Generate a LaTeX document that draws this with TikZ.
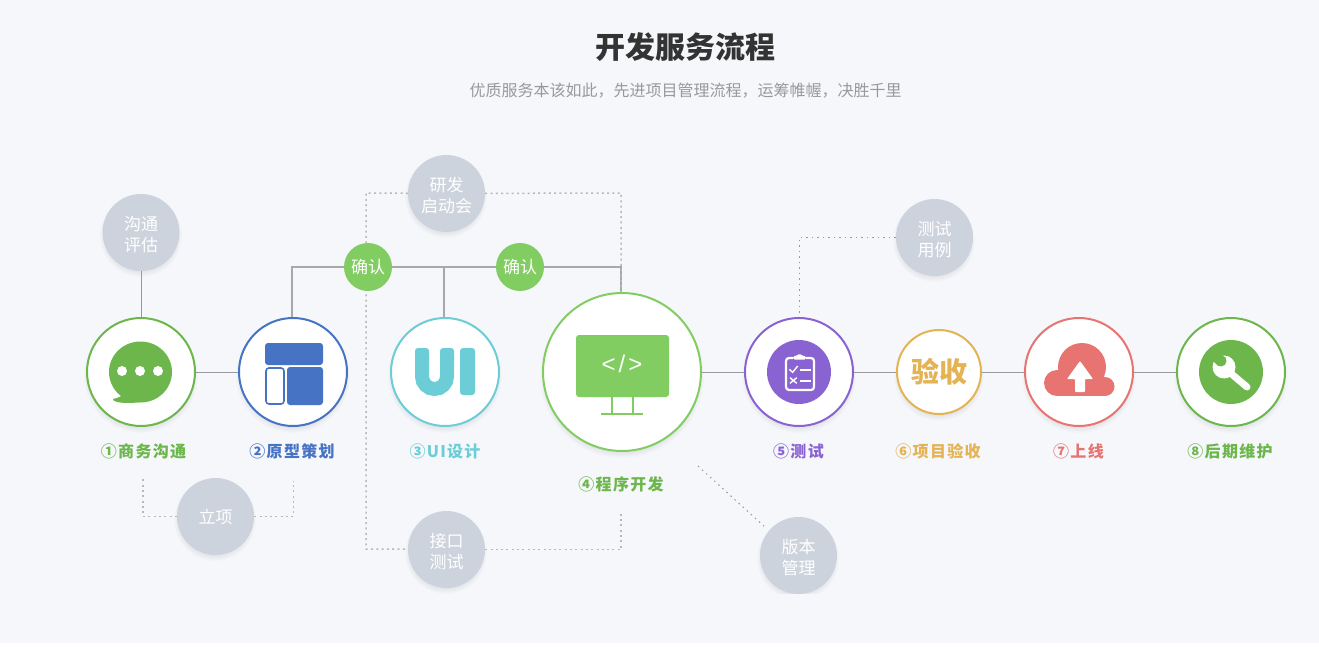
\documentclass[tikz,border=0pt]{standalone}
\usepackage{fontspec}
\setmainfont{Liberation Sans}
\newfontfamily\cjk{Noto Sans CJK SC}
\newfontfamily\cjkl[LetterSpace=8]{Noto Sans CJK SC}
\usetikzlibrary{calc}
\pgfdeclarelayer{under}
\pgfdeclarelayer{wires}
\pgfsetlayers{under,wires,main}
\definecolor{bgc}{HTML}{F5F7FB}
\definecolor{cgreen}{HTML}{6CB64C}
\definecolor{cblue}{HTML}{4773C4}
\definecolor{ccyan}{HTML}{6CCDD6}
\definecolor{cgreenb}{HTML}{82CD62}
\definecolor{cpurple}{HTML}{8A63D2}
\definecolor{cgold}{HTML}{E5B354}
\definecolor{cred}{HTML}{E87472}
\definecolor{cgrey}{HTML}{CDD3DD}
\definecolor{wire}{HTML}{999999}
\tikzset{
  stage/.style={circle,draw=#1,fill=white,line width=2pt,inner sep=0pt,minimum size=108pt},
  bigstage/.style={stage=#1,minimum size=158pt},
  smallstage/.style={stage=#1,minimum size=84pt},
  extra/.style={circle,fill=cgrey,text=white,inner sep=0pt,minimum size=77pt,align=center,font=\cjk\fontsize{17}{21}\selectfont},
  okbadge/.style={circle,fill=cgreenb,text=white,inner sep=0pt,minimum size=48pt,font=\cjk\fontsize{17}{22}\selectfont},
  caption/.style={text=#1,inner sep=0pt,font=\cjkl\bfseries\fontsize{16}{20}\selectfont},
  solidwire/.style={draw=wire,line width=1pt},
  buswire/.style={draw=wire!85,line width=1.4pt},
  dotwire/.style={draw=wire!70,line width=1.5pt,dash pattern=on 2pt off 3.3pt},
  finewire/.style={draw=wire,line width=1pt,dash pattern=on 1.5pt off 4pt}
}
\newcommand\softshadow[3]{\foreach \k in {0,...,5}{\fill[black,opacity=.012] (#1,#2+4) circle ({#3+3-\k});}}
\newcommand\lowerline{\rule{0pt}{19pt}}
\begin{document}
\begin{tikzpicture}[x=1pt,y=-1pt]
\useasboundingbox (0,0) rectangle (1319,652);
\begin{pgfonlayer}{under}
\fill[white] (0,0) rectangle (1319,652);
\fill[bgc] (0,0) rectangle (1319,643);
\softshadow{141}{372}{54}\softshadow{293}{372}{54}\softshadow{445}{372}{54}
\softshadow{622}{372}{79}\softshadow{799}{372}{54}\softshadow{939}{372}{42}
\softshadow{1079}{372}{54}\softshadow{1231}{372}{54}
\softshadow{141}{232}{38}\softshadow{446}{193}{38}\softshadow{934}{237}{38}
\softshadow{215}{516}{38}\softshadow{446}{549}{38}\softshadow{798}{555}{38}
\fill[bgc] (390,140) rectangle (500,155);
\fill[bgc] (750,594) rectangle (850,610);
\end{pgfonlayer}

\node[inner sep=0pt,text=black!80,font=\cjk\bfseries\fontsize{30}{36}\selectfont] (title) at (685.5,47) {开发服务流程};
\node[inner sep=0pt,text=black!40,font=\cjk\fontsize{16}{20}\selectfont] (subtitle) at (685.5,91) {优质服务本该如此，先进项目管理流程，运筹帷幄，决胜千里};

\node[stage=cgreen] (c1) at (141,372) {};
\node[stage=cblue] (c2) at (293,372) {};
\node[stage=ccyan] (c3) at (445,372) {};
\node[bigstage=cgreenb] (c4) at (622,372) {};
\node[stage=cpurple] (c5) at (799,372) {};
\node[smallstage=cgold,text=cgold,font=\cjk\bfseries\fontsize{28}{32}\selectfont] (c6) at (939,372) {验收};
\node[stage=cred] (c7) at (1079,372) {};
\node[stage=cgreen] (c8) at (1231,372) {};

\node[caption=cgreen] (l1) at (143.5,451) {①商务沟通};
\node[caption=cblue] (l2) at (292,451) {②原型策划};
\node[caption=ccyan] (l3) at (445,451) {③UI设计};
\node[caption=cgreen] (l4) at (621,484) {④程序开发};
\node[caption=cpurple] (l5) at (798.5,451) {⑤测试};
\node[caption=cgold] (l6) at (938,451) {⑥项目验收};
\node[caption=cred] (l7) at (1078.5,451) {⑦上线};
\node[caption=cgreen] (l8) at (1230,451) {⑧后期维护};

\node[extra] (e1) at (141,232.5) {\lowerline 沟通\\评估};
\node[extra] (e2) at (446.5,193.5) {\lowerline 研发\\启动会};
\node[extra] (e3) at (934.5,237.5) {\lowerline 测试\\用例};
\node[extra] (e4) at (215.5,516.5) {立项};
\node[extra] (e5) at (446.5,549.5) {\lowerline 接口\\测试};
\node[extra] (e6) at (798.5,555.5) {\lowerline 版本\\管理};

\node[okbadge] (ok1) at (368,267) {确认};
\node[okbadge] (ok2) at (520,267) {确认};

\coordinate (f1) at (143,478);
\coordinate (f2) at (293.5,481);
\coordinate (f3) at (621,514);
\coordinate (f4) at (698,466);
\coordinate (f5) at (366,193);
\coordinate (f6) at (366,549);
\coordinate (f7) at (621,193);
\coordinate (t2) at ($(c2.north)+(-1,0)$);
\coordinate (t3) at ($(c3.north)+(-1,0)$);
\coordinate (t4) at ($(c4.north)+(-1,0)$);

\begin{pgfonlayer}{wires}
\draw[solidwire] (e1) -- (c1);
\draw[solidwire] (c1) -- (c2);
\draw[solidwire] (c4) -- (c5);
\draw[solidwire] (c5) -- (c6);
\draw[solidwire] (c6) -- (c7);
\draw[solidwire] (c7) -- (c8);
\draw[buswire] (t2) |- (ok1);
\draw[buswire] (ok1) -- (ok2);
\draw[buswire] (ok2) -| (t4);
\draw[buswire] (t3) -- (t3 |- ok1);
\draw[dotwire] (e2) -- (f5) -- (f6) -- (e5);
\draw[dotwire] (e2) -- (f7) -- (f7 |- c4.north);
\draw[dotwire] (e5) -| (f3);
\draw[dotwire] (e4) -| (f1);
\draw[dotwire] (e4) -| (f2);
\draw[finewire] (e3) -| (c5.north);
\draw[finewire,shorten >=4pt] (f4) -- (e6.140);
\end{pgfonlayer}

% icon 1: chat bubble
\fill[cgreen] (140.5,372) ellipse (31.5 and 30.5);
\fill[cgreen] (123,393) .. controls (123,396) and (118,398) .. (113,399) .. controls (112,401) and (118,403) .. (128,403) .. controls (135,403) and (143,402) .. (150,400) -- cycle;
\fill[white] (122,371) circle (5) (140,371) circle (5) (158,371) circle (5);

% icon 2: layout
\fill[cblue,rounded corners=3pt] (265,343) rectangle (323,365);
\draw[cblue,line width=1.6pt,rounded corners=3pt,fill=white] (266,368) rectangle (284,404);
\fill[cblue,rounded corners=3pt] (287,367) rectangle (323,405);

% icon 3: UI
\draw[ccyan,line width=14pt] (422,356) -- (422,376.5) arc[start angle=180,end angle=0,radius=12.5] -- (447,356);
\fill[ccyan,rounded corners=3pt] (415,348) rectangle (429,362);
\fill[ccyan,rounded corners=3pt] (440,348) rectangle (454,362);
\fill[ccyan,rounded corners=3pt] (460,348) rectangle (475,395);

% icon 4: monitor
\fill[cgreenb,rounded corners=3pt] (576,335) rectangle (669,397);
\draw[cgreenb,line width=1.7pt] (612,397) -- (612,414) (633,397) -- (633,414);
\draw[cgreenb,line width=1.7pt] (601,414) -- (643,414);
\node[text=white,inner sep=0pt,font=\fontsize{24}{28}\selectfont] (code) at (622,364) {<\kern3pt/\kern3pt>};

% icon 5: clipboard
\fill[cpurple] (799,372) circle (32);
\draw[white,line width=2.2pt,rounded corners=3pt] (793,358) -- (786,358) -- (786,390) -- (814,390) -- (814,358) -- (806,358);
\fill[white,rounded corners=1.5pt] (793,359.5) -- (793,356) -- (796.5,356) -- (799.5,353.5) -- (802.5,356) -- (806,356) -- (806,359.5) -- cycle;
\draw[white,line width=1.4pt] (789.3,369.3) -- (792.7,372.3) -- (797.7,366);
\draw[white,line width=1.6pt] (800,370) -- (810.7,370) (800,381) -- (810.7,381);
\draw[white,line width=1.4pt] (790,377.7) -- (796.7,383.3) (796.7,377.7) -- (790,383.3);

% icon 7: cloud upload
\fill[cred] (1082,367) circle (24) (1057,383) circle (13) (1105,386.5) circle (9.5);
\fill[cred] (1057,380) rectangle (1105,396);
\fill[white,rounded corners=.8pt] (1080,361) -- (1093,379) -- (1085,379) -- (1085,392) -- (1075,392) -- (1075,379) -- (1067,379) -- cycle;

% icon 8: wrench
\fill[cgreen] (1231,372) circle (32);
\fill[white] (1224,367) circle (11.5);
\draw[white,line width=7pt,line cap=round] (1228,371) -- (1247,387);
\fill[cgreen] (1221,361) circle (5.5);
\fill[cgreen] (1214,350) -- (1208,356) -- (1218,366) -- (1226,358) -- cycle;
\end{tikzpicture}
\end{document}
